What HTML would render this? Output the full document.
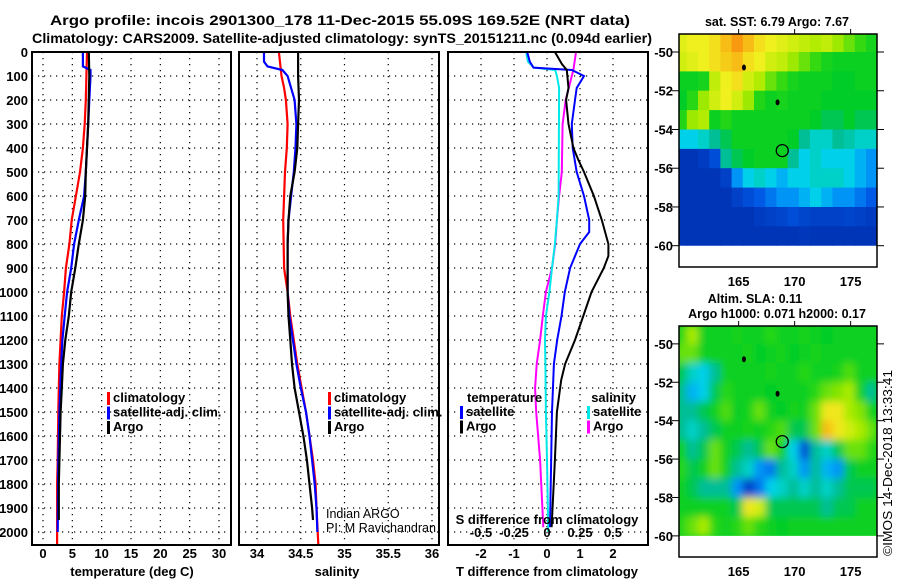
<!DOCTYPE html>
<html><head><meta charset="utf-8"><style>
html,body{margin:0;padding:0;background:#fff}
svg{display:block}
text{font-family:"Liberation Sans",sans-serif;font-weight:bold;font-size:13px;fill:#000}
</style></head><body>
<svg id="c" width="900" height="580" viewBox="0 0 900 580" xmlns="http://www.w3.org/2000/svg">
<text x="340" y="25" text-anchor="middle" textLength="580" lengthAdjust="spacingAndGlyphs" style="font-size:14px">Argo profile: incois 2901300_178 11-Dec-2015 55.09S 169.52E (NRT data)</text>
<text x="342" y="43" text-anchor="middle" textLength="620" lengthAdjust="spacingAndGlyphs" style="font-size:14px">Climatology: CARS2009. Satellite-adjusted climatology: synTS_20151211.nc (0.094d earlier)</text>
</svg>
<script>
// ---- data ----
const tClimDepth=[0,200,300,400,500,600,700,800,900,1000,1100,1200,1300,1400,1500,1700,1800,2050];
const tClim=[7.5,7.3,7.1,6.8,6.3,5.6,4.9,4.5,3.9,3.6,3.2,3.0,2.8,2.7,2.6,2.5,2.4,2.4];
const tSatDepth=[0,60,75,100,200,300,400,500,600,700,800,900,1000,1100,1200,1300,1500,1700,2000];
const tSat=[6.8,6.8,8.1,8.1,7.9,7.7,7.5,7.3,7.0,6.1,5.3,4.8,4.1,3.7,3.3,3.1,2.8,2.6,2.5];
const tArgoDepth=[0,100,300,500,600,700,800,900,1000,1100,1200,1300,1400,1500,1600,1800,1950];
const tArgo=[7.8,7.9,7.7,7.3,7.2,6.8,6.1,5.5,4.8,4.4,3.8,3.4,3.2,3.0,2.9,2.7,2.7];
const sClimDepth=[0,100,150,200,300,400,500,600,700,900,1000,1100,1200,1300,1400,1500,1600,1700,1800,1900,2050];
const sClim=[34.25,34.28,34.31,34.33,34.35,34.34,34.32,34.31,34.30,34.31,34.35,34.38,34.42,34.46,34.51,34.56,34.60,34.64,34.67,34.68,34.70];
const sSatDepth=[0,40,60,75,100,150,200,300,400,500,600,700,800,900,1000,1100,1200,1300,1400,1500,1600,1700,1800,1900,2000];
const sSat=[34.08,34.08,34.12,34.29,34.35,34.39,34.43,34.45,34.44,34.42,34.39,34.36,34.35,34.35,34.35,34.37,34.41,34.45,34.50,34.56,34.60,34.63,34.66,34.68,34.69];
const sArgoDepth=[0,100,200,300,400,500,600,700,800,900,1000,1100,1200,1300,1400,1500,1600,1700,1800,1900,1950];
const sArgo=[34.47,34.47,34.48,34.47,34.46,34.43,34.38,34.36,34.35,34.35,34.35,34.36,34.38,34.40,34.43,34.48,34.53,34.57,34.60,34.63,34.64];
const dTArgoDepth=[0,50,75,150,200,300,400,450,500,600,700,800,850,900,1000,1100,1200,1300,1367,1500,1700,1980];
const dTArgo=[0.24,0.45,0.6,0.65,0.58,0.65,0.8,0.95,1.12,1.42,1.66,1.86,1.86,1.72,1.35,1.1,0.85,0.55,0.43,0.3,0.24,0.14];
const dTSatDepth=[0,40,65,75,100,150,200,300,400,500,600,700,750,800,900,1000,1100,1200,1300,1500,1980];
const dTSat=[-0.6,-0.52,-0.41,0.75,1.12,0.9,0.85,0.75,0.78,0.9,1.12,1.28,1.28,1.0,0.7,0.54,0.44,0.31,0.21,0.15,0.09];
const dSSatDepth=[0,40,65,75,100,150,600,700,800,900,1000,1100,1200,1300,1500,1700,2000];
const dSSat=[-0.158,-0.145,-0.1,0.062,0.075,0.092,0.088,0.075,0.06,0.038,0.018,-0.008,-0.015,-0.012,-0.008,0,0.01];
const dSArgoDepth=[0,75,100,200,300,500,600,700,800,900,1000,1100,1200,1300,1400,1500,1700,1980];
const dSArgo=[0.22,0.2,0.188,0.142,0.118,0.112,0.092,0.075,0.062,0.038,-0.008,-0.032,-0.052,-0.078,-0.09,-0.082,-0.052,-0.028];
const depthTicks=[0,100,200,300,400,500,600,700,800,900,1000,1100,1200,1300,1400,1500,1600,1700,1800,1900,2000];
const tTicks=[0,5,10,15,20,25,30];
const sTicks=[34,34.5,35,35.5,36];
const dTTicks=[-2,-1,0,1,2];
const dSTicks=[-0.5,-0.25,0,0.25,0.5];
const dSTickLabels=["-0.5","-0.25","0","0.25","0.5"];
const latTicks=[-50,-52,-54,-56,-58,-60];
const lonTicks=[165,170,175];
const sstGrid=[
[.82,.84,.84,.86,.9,.94,.9,.86,.84,.82,.8,.78,.76,.78,.74,.7,.66,.62],
[.8,.82,.84,.86,.88,.9,.86,.84,.8,.78,.74,.7,.66,.62,.6,.6,.6,.6],
[.6,.6,.62,.78,.84,.86,.8,.76,.7,.66,.62,.6,.6,.6,.58,.58,.6,.6],
[.58,.65,.74,.8,.84,.8,.74,.64,.6,.62,.6,.6,.6,.58,.58,.58,.58,.58],
[.64,.74,.76,.6,.64,.6,.6,.6,.6,.6,.6,.6,.58,.55,.55,.58,.55,.55],
[.4,.4,.45,.5,.55,.6,.6,.6,.6,.6,.58,.5,.45,.45,.5,.48,.45,.45],
[.05,.05,.08,.15,.5,.55,.58,.6,.6,.6,.5,.4,.45,.4,.4,.4,.35,.3],
[.05,.05,.05,.05,.1,.3,.4,.45,.4,.35,.4,.4,.45,.45,.45,.4,.35,.3],
[.05,.05,.05,.05,.05,.1,.15,.2,.25,.3,.3,.35,.4,.35,.3,.3,.25,.2],
[.05,.05,.05,.05,.05,.05,.05,.08,.1,.12,.15,.12,.1,.1,.1,.12,.1,.08],
[.05,.05,.05,.05,.05,.05,.05,.05,.05,.05,.05,.06,.05,.05,.05,.05,.05,.05]];
const slaGrid=[
[.65,.75,.6,.6,.6,.62,.6,.6,.65,.6,.6,.62,.6,.58,.6,.6,.6,.6],
[.7,.7,.6,.6,.6,.6,.62,.58,.6,.62,.58,.6,.62,.6,.6,.6,.6,.6],
[.55,.45,.4,.5,.6,.6,.6,.6,.62,.6,.6,.65,.6,.6,.62,.68,.6,.6],
[.5,.35,.4,.55,.65,.6,.6,.6,.58,.6,.6,.6,.65,.7,.72,.75,.6,.5],
[.5,.5,.55,.6,.68,.58,.62,.7,.6,.58,.62,.6,.7,.85,.85,.75,.72,.6],
[.5,.45,.5,.55,.6,.6,.62,.6,.65,.68,.55,.55,.7,.9,.85,.8,.75,.7],
[.6,.5,.55,.7,.6,.55,.5,.55,.7,.6,.4,.15,.5,.45,.55,.7,.7,.65],
[.65,.55,.6,.7,.6,.5,.45,.3,.25,.5,.45,.3,.5,.35,.3,.55,.6,.6],
[.6,.55,.5,.5,.5,.3,.1,.25,.4,.45,.5,.45,.5,.45,.5,.55,.55,.55],
[.6,.6,.6,.6,.6,.55,.85,.8,.55,.55,.55,.55,.55,.5,.55,.55,.6,.6],
[.65,.7,.75,.65,.6,.65,.7,.65,.6,.58,.6,.6,.6,.6,.6,.6,.6,.6]];
const gridLon0=160.3, gridLat0=-49.07;
const markLon=[166.1,169.1], markLat=[-50.8,-52.6];
const floatLon=169.52, floatLat=-55.09;

const svg=document.getElementById('c');
const NS='http://www.w3.org/2000/svg';
function el(tag,attrs,parent){const e=document.createElementNS(NS,tag);for(const k in attrs)e.setAttribute(k,attrs[k]);(parent||svg).appendChild(e);return e;}
const Y0=52, YB=545;
const yD=d=>Y0+d*0.24;

function panel(name,x0,x1,xs,xticks,xlabels,gridx){
  const g=el('g',{});
  
  
  depthTicks.forEach(d=>{const l=el('line',{x1:x0,x2:x1,y1:yD(d),y2:yD(d),stroke:'#000','stroke-width':1.2,'stroke-dasharray':'1.2,4.8'},g);});
  gridx.forEach(v=>{const l=el('line',{x1:xs(v),x2:xs(v),y1:Y0,y2:YB,stroke:'#000','stroke-width':1.2,'stroke-dasharray':'1.2,4.8'},g);});
  xticks.forEach((v,i)=>{const t=el('text',{x:xs(v),y:558,'text-anchor':'middle'},g);t.textContent=xlabels[i];});
  return g;
}
function series(g,name,xs,vals,depths,color,w){
  const pts=vals.map((v,i)=>xs(v).toFixed(1)+','+yD(depths[i]).toFixed(1)).join(' ');
  const p=el('polyline',{points:pts,fill:'none',stroke:color,'stroke-width':w||2.2,'stroke-linejoin':'miter'},g);
  
  
}
function frame(g,x0,x1){const r=el('rect',{x:x0,y:Y0,width:x1-x0,height:YB-Y0,fill:'none',stroke:'#000','stroke-width':2},g);}
function legend(g,x,y,items){
  items.forEach((it,i)=>{
    const r=el('rect',{x:x,y:y+i*14.5-10,width:3,height:13,fill:it[1]},g);
    
    const t=el('text',{x:x+6,y:y+i*14.5},g);t.textContent=it[0];
    
  });
}

// Panel 1 temperature
const xT=v=>43+v*5.867;
const g1=panel('temperature-panel',32,231,xT,tTicks,tTicks.map(String),tTicks);
depthTicks.forEach(d=>{const t=el('text',{x:28,y:yD(d)+5,'text-anchor':'end'});t.textContent=d;});
series(g1,'temperature-climatology-line',xT,tClim,tClimDepth,'#ff0000');
series(g1,'temperature-satellite-line',xT,tSat,tSatDepth,'#0000ff');
series(g1,'temperature-argo-line',xT,tArgo,tArgoDepth,'#000');
frame(g1,32,231);
legend(g1,107,402,[['climatology','#ff0000'],['satellite-adj. clim.','#0000ff'],['Argo','#000']]);
let t=el('text',{x:132,y:576,'text-anchor':'middle'},g1);t.textContent='temperature (deg C)';

// Panel 2 salinity
const xS=v=>257+(v-34)*87.5;
const g2=panel('salinity-panel',239,439,xS,sTicks,sTicks.map(String),sTicks);
series(g2,'salinity-climatology-line',xS,sClim,sClimDepth,'#ff0000');
series(g2,'salinity-satellite-line',xS,sSat,sSatDepth,'#0000ff');
series(g2,'salinity-argo-line',xS,sArgo,sArgoDepth,'#000');
frame(g2,239,439);
legend(g2,328,402,[['climatology','#ff0000'],['satellite-adj. clim.','#0000ff'],['Argo','#000']]);
t=el('text',{x:326,y:518,style:'font-weight:normal;font-size:12.5px'},g2);t.textContent='Indian ARGO';
t=el('text',{x:326,y:532,style:'font-weight:normal;font-size:12.5px',textLength:110,lengthAdjust:'spacingAndGlyphs'},g2);t.textContent='PI: M Ravichandran';
t=el('text',{x:337,y:576,'text-anchor':'middle'},g2);t.textContent='salinity';

// Panel 3 differences
const xDT=v=>547+v*33;
const xDS=v=>547+v*4*33;
const g3=panel('difference-panel',448,648,xDT,dTTicks,dTTicks.map(String),dTTicks);
series(g3,'salinity-diff-argo-line',xDS,dSArgo,dSArgoDepth,'#ff00ff',2);
series(g3,'salinity-diff-satellite-line',xDS,dSSat,dSSatDepth,'#00e8e8',2);
series(g3,'temperature-diff-satellite-line',xDT,dTSat,dTSatDepth,'#0000ff',2);
series(g3,'temperature-diff-argo-line',xDT,dTArgo,dTArgoDepth,'#000',2);
frame(g3,448,648);
dSTicks.forEach((v,i)=>{const tt=el('text',{x:xDS(v),y:537,'text-anchor':'middle'},g3);tt.textContent=dSTickLabels[i];});
t=el('text',{x:547,y:524,'text-anchor':'middle'},g3);t.textContent='S difference from climatology';
t=el('text',{x:547,y:576,'text-anchor':'middle'},g3);t.textContent='T difference from climatology';
t=el('text',{x:467,y:402},g3);t.textContent='temperature';
legend(g3,460,416,[['satellite','#0000ff'],['Argo','#000']]);
t=el('text',{x:636,y:402,'text-anchor':'end'},g3);t.textContent='salinity';
legend(g3,587,416,[['satellite','#00e8e8'],['Argo','#ff00ff']]);

// ---- maps ----
const cstops=[[0,[0,40,168]],[0.2,[0,90,230]],[0.32,[0,160,250]],[0.42,[0,220,230]],[0.5,[0,190,150]],[0.58,[0,205,40]],[0.65,[40,215,20]],[0.75,[170,235,0]],[0.84,[240,240,30]],[0.92,[250,170,20]],[1,[240,100,0]]];
function cmap(v){for(let i=1;i<cstops.length;i++){if(v<=cstops[i][0]){const a=cstops[i-1],b=cstops[i];const f=(v-a[0])/(b[0]-a[0]);return 'rgb('+a[1].map((c,k)=>Math.round(c+(b[1][k]-c)*f)).join(',')+')';}}return 'rgb(240,100,0)';}
function map(name,top,bottom,grid,blur,title1){
  const g=el('g',{});
  
  
  const lx=v=>679+(v-160.3)*11.2;
  const lxt=v=>686+(v-160.3)*11.2;
  const la=v=>top+(-49.07-v)*((bottom-top)/12.03);
  const cid='clip'+name;
  const cp=el('clipPath',{id:cid},g);el('rect',{x:679,y:top,width:198,height:la(-60)-top},cp);
  const cg=el('g',{'clip-path':'url(#'+cid+')'},g);
  if(blur){el('rect',{x:679,y:top,width:198,height:la(-60)-top,fill:cmap(0.6)},cg);}
  const ig=el('g',blur?{filter:'url(#bl)'}:{},cg);
  grid.forEach((row,r)=>row.forEach((v,c)=>{
    const x=lx(gridLon0+c-0.3), y=la(gridLat0-r+0.07);
    const cell=el('rect',{x:x.toFixed(1),y:y.toFixed(1),width:11.8,height:(la(-1)-la(0)+0.8).toFixed(1),fill:cmap(v)},ig);
    
  }));
  markLon.forEach((lo,i)=>{const m=el('ellipse',{cx:lx(lo),cy:la(markLat[i]),rx:2,ry:3,fill:'#000'},g);});
  const fc=el('circle',{cx:lx(floatLon),cy:la(floatLat),r:6,fill:'none',stroke:'#000','stroke-width':1.3},g);
  
  const fr=el('rect',{x:679,y:top,width:198,height:bottom-top,fill:'none',stroke:'#000','stroke-width':1.5},g);
  
  latTicks.forEach(v=>{el('line',{x1:672,x2:679,y1:la(v),y2:la(v),stroke:'#000'},g);el('line',{x1:877,x2:884,y1:la(v),y2:la(v),stroke:'#000'},g);
    const tt=el('text',{x:673,y:la(v)+5,'text-anchor':'end'},g);tt.textContent=String(v);});
  lonTicks.forEach(v=>{el('line',{x1:lxt(v),x2:lxt(v),y1:top-5,y2:top,stroke:'#000'},g);
    const tt=el('text',{x:lxt(v),y:bottom+19,'text-anchor':'middle'},g);tt.textContent=String(v);});
  title1.forEach((s)=>{const tt=el('text',{x:s[1],y:s[2],'text-anchor':'middle',style:'font-size:12.5px'},g);tt.textContent=s[0];});
}
const defs=el('defs',{});
const f=el('filter',{id:'bl',x:'-5%',y:'-5%',width:'110%',height:'110%'},defs);
el('feGaussianBlur',{stdDeviation:4},f);
map('sst-map',34,267,sstGrid,false,[['sat. SST: 6.79 Argo: 7.67',777,26]]);
map('sla-map',326,557,slaGrid,true,[['Altim. SLA: 0.11',755,303],['Argo h1000: 0.071 h2000: 0.17',777,318]]);
t=el('text',{x:0,y:0,'text-anchor':'start',transform:'translate(892,556) rotate(-90)',style:'font-weight:normal;font-size:13px',textLength:186,lengthAdjust:'spacingAndGlyphs'});
t.textContent='©IMOS 14-Dec-2018 13:33:41';


</script>
</body></html>
